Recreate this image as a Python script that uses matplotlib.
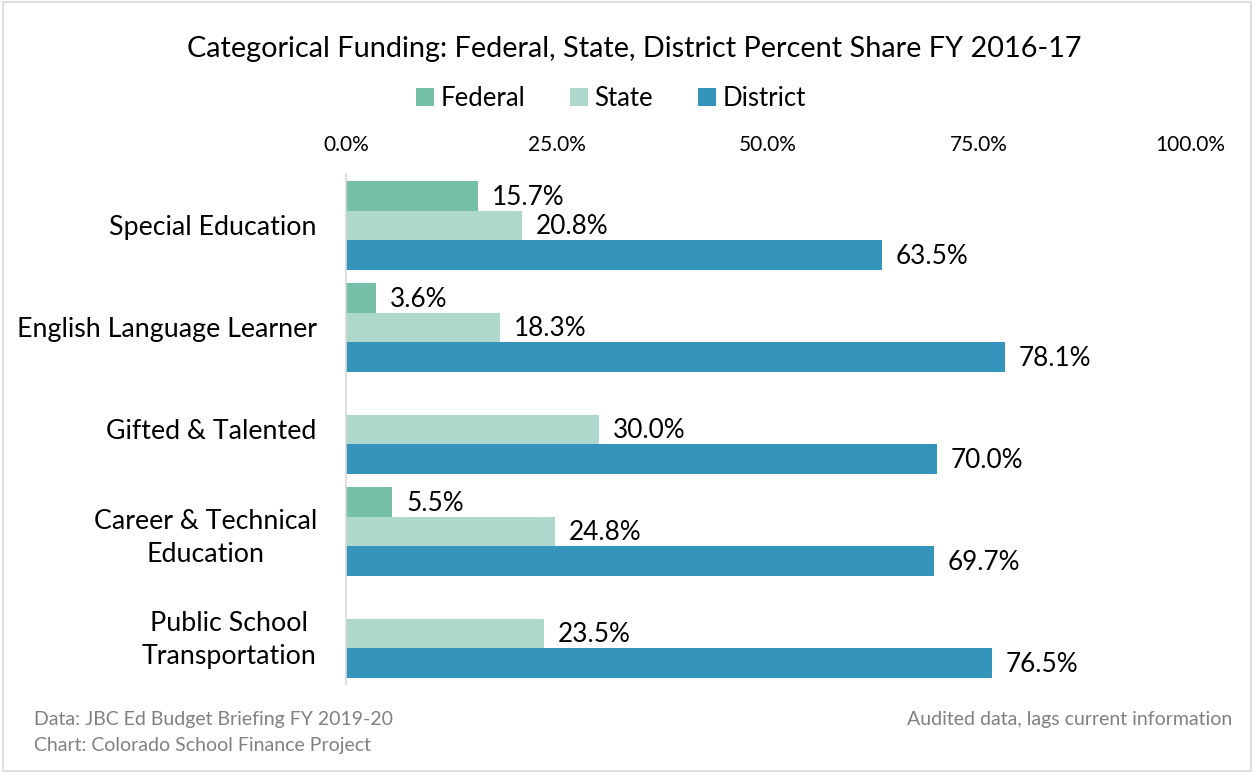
import matplotlib.pyplot as plt
import numpy as np
from matplotlib.patches import Rectangle

plt.rcParams['font.family'] = ['Lato', 'DejaVu Sans']

categories = ['Special Education', 'English Language Learner', 'Gifted & Talented',
              'Career & Technical\nEducation', 'Public School\nTransportation']
federal = [15.7, 3.6, np.nan, 5.5, np.nan]
state = [20.8, 18.3, 30.0, 24.8, 23.5]
district = [63.5, 78.1, 70.0, 69.7, 76.5]
series = ['Federal', 'State', 'District']
colors = ['#76BFA8', '#AED8CB', '#3594BB']
ticks = [0, 25, 50, 75, 100]

fig = plt.figure(figsize=(12.54, 7.73), dpi=100)
ax = fig.add_axes([0.2759, 0.1145, 0.673, 0.6598])

y = np.arange(len(categories))
h = 0.29
for i, (vals, col, name) in enumerate(zip([federal, state, district], colors, series)):
    pos = y + (i - 1) * h
    ax.barh(pos, vals, height=h, color=col, label=name)
    for p, v in zip(pos, vals):
        if not np.isnan(v):
            ax.annotate(f'{v:.1f}%', (v, p), xytext=(10, -1), textcoords='offset points',
                        va='center', ha='left', fontsize=18.8, color='#000000')

ax.set_xlim(0, 100)
ax.set_ylim(len(categories) - 0.5, -0.5)
ax.set_yticks(y)
ax.set_yticklabels(categories, fontsize=19.3, multialignment='center', linespacing=1.4)
ax.set_xticks(ticks)
ax.set_xticklabels([f'{t:.1f}%' for t in ticks], fontsize=15)
ax.xaxis.tick_top()
ax.tick_params(axis='x', length=0, pad=14)
ax.tick_params(axis='y', length=0, pad=21)
for s in ['top', 'right', 'bottom']:
    ax.spines[s].set_visible(False)
ax.spines['left'].set_color('#d9d9d9')
ax.spines['left'].set_linewidth(1.2)

fig.text(0.506, 0.936, 'Categorical Funding: Federal, State, District Percent Share FY 2016-17',
         ha='center', va='center', fontsize=20.8)
fig.legend(loc='center', bbox_to_anchor=(0.487, 0.872), ncol=3, frameon=False,
           fontsize=18.5, handlelength=0.7, handleheight=0.7, handletextpad=0.25,
           columnspacing=1.75)

fig.text(0.027, 0.069, 'Data: JBC Ed Budget Briefing FY 2019-20', fontsize=14,
         color='#808080', va='center')
fig.text(0.027, 0.036, 'Chart: Colorado School Finance Project', fontsize=14,
         color='#808080', va='center')
fig.text(0.983, 0.069, 'Audited data, lags current information', fontsize=14,
         color='#808080', va='center', ha='right')

fig.patches.append(Rectangle((0.002, 0.003), 0.996, 0.994, transform=fig.transFigure,
                             fill=False, edgecolor='#d9d9d9', linewidth=1.2))

fig.savefig('out.png', dpi=100)
